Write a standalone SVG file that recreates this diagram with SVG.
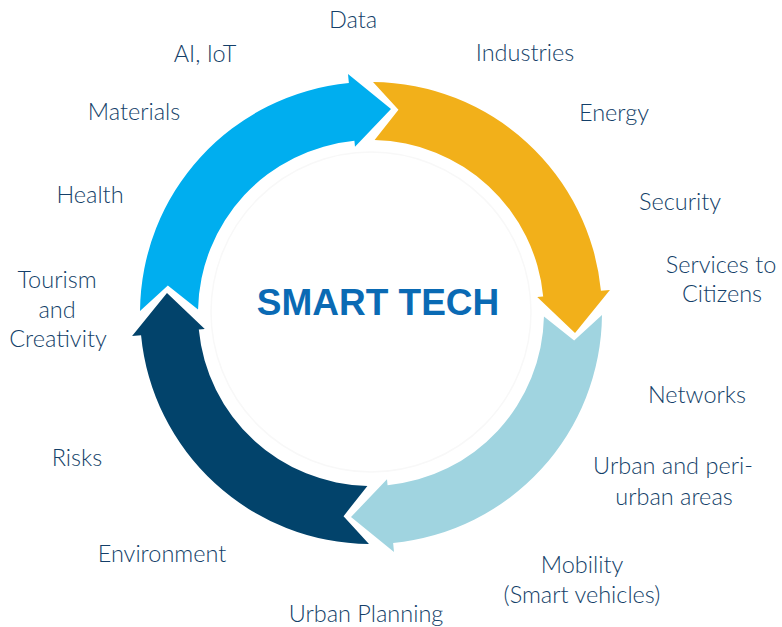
<svg xmlns="http://www.w3.org/2000/svg" xmlns:xlink="http://www.w3.org/1999/xlink" width="782" height="627" viewBox="0 0 782 627">
  <style>
    .lbl { font-family: "Lato", "Liberation Sans", sans-serif; font-weight: 300; font-size: 23.5px; fill: #143f69; text-anchor: middle; }
    .title { font-family: "Liberation Sans", "Arial", sans-serif; font-weight: bold; font-size: 37px; fill: #0a6ab4; text-anchor: middle; }
  </style>
  <defs>
    <path id="arrow" d="M373.02,82.01 A231,231 0 0 1 600.94,290.86 L609.90,290.00 L575.02,333.00 L537.23,296.99 L543.20,296.42 A173,173 0 0 0 374.62,140.04 L398.47,109.85 Z"/>
  </defs>
  <rect width="782" height="627" fill="#ffffff"/>
  <circle cx="371" cy="312" r="160" fill="none" stroke="#f8f8f8" stroke-width="1.5"/>
  <g id="connectors">
    <use id="arrow-orange" xlink:href="#arrow" href="#arrow" fill="#f2b01a"/>
    <use id="arrow-lightblue" xlink:href="#arrow" href="#arrow" fill="#a0d4e0" transform="rotate(90 371 313)"/>
    <use id="arrow-navy" xlink:href="#arrow" href="#arrow" fill="#02436b" transform="rotate(180 371 313)"/>
    <use id="arrow-blue" xlink:href="#arrow" href="#arrow" fill="#00aeef" transform="rotate(270 371 313)"/>
  </g>
  <g id="center"><text class="title" x="378" y="315">SMART TECH</text></g>
  <g id="n-data"><text class="lbl" x="353" y="28">Data</text></g>
  <g id="n-ai"><text class="lbl" x="205" y="62">AI, IoT</text></g>
  <g id="n-materials"><text class="lbl" x="134" y="120">Materials</text></g>
  <g id="n-industries"><text class="lbl" x="525" y="61">Industries</text></g>
  <g id="n-energy"><text class="lbl" x="614" y="121">Energy</text></g>
  <g id="n-security"><text class="lbl" x="680" y="210">Security</text></g>
  <g id="n-services"><text class="lbl" x="721" y="273">Services to</text><text class="lbl" x="722" y="302">Citizens</text></g>
  <g id="n-health"><text class="lbl" x="90" y="203">Health</text></g>
  <g id="n-tourism"><text class="lbl" x="57" y="288">Tourism</text><text class="lbl" x="57" y="318">and</text><text class="lbl" x="58" y="347">Creativity</text></g>
  <g id="n-networks"><text class="lbl" x="697" y="403">Networks</text></g>
  <g id="n-urban"><text class="lbl" x="673" y="474">Urban and peri-</text><text class="lbl" x="674" y="505">urban areas</text></g>
  <g id="n-risks"><text class="lbl" x="77" y="466">Risks</text></g>
  <g id="n-environment"><text class="lbl" x="162" y="562">Environment</text></g>
  <g id="n-planning"><text class="lbl" x="366" y="622">Urban Planning</text></g>
  <g id="n-mobility"><text class="lbl" x="582" y="573">Mobility</text><text class="lbl" x="582" y="603">(Smart vehicles)</text></g>
</svg>
